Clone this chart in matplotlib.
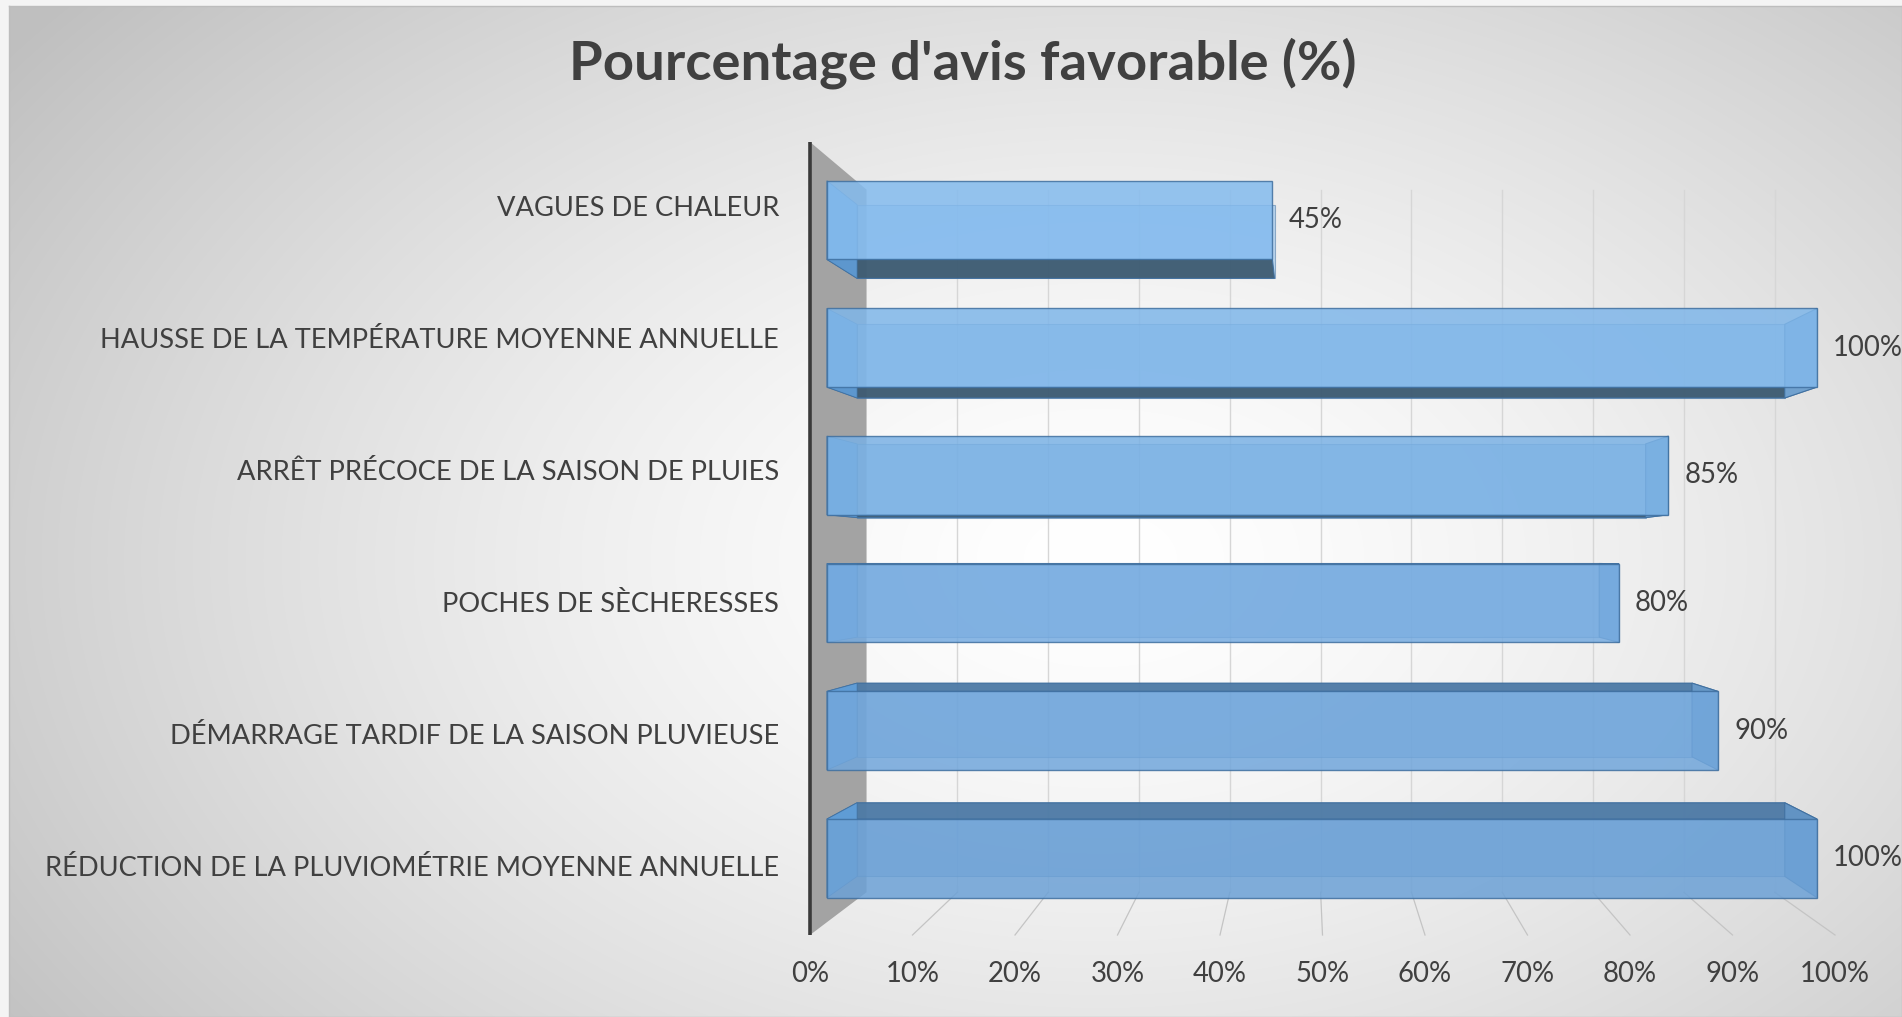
import numpy as np
import matplotlib
matplotlib.use("Agg")
import matplotlib.pyplot as plt
from matplotlib.patches import Polygon
from matplotlib import transforms
from matplotlib.colors import to_rgb

# ---------------- data ----------------
categories = [
    "VAGUES DE CHALEUR",
    "HAUSSE DE LA TEMPÉRATURE MOYENNE ANNUELLE",
    "ARRÊT PRÉCOCE DE LA SAISON DE PLUIES",
    "POCHES DE SÈCHERESSES",
    "DÉMARRAGE TARDIF DE LA SAISON PLUVIEUSE",
    "RÉDUCTION DE LA PLUVIOMÉTRIE MOYENNE ANNUELLE",
]
values = [45, 100, 85, 80, 90, 100]
ticks = [0, 10, 20, 30, 40, 50, 60, 70, 80, 90, 100]
tick_labels = ["0%", "10%", "20%", "30%", "40%", "50%", "60%", "70%", "80%", "90%", "100%"]
value_labels = ["45%", "100%", "85%", "80%", "90%", "100%"]
title = "Pourcentage d'avis favorable (%)"

# ---------------- figure ----------------
W, H = 1902, 1017
fig = plt.figure(figsize=(W / 100, H / 100), dpi=100)
fig.patch.set_facecolor("#f4f4f4")
renderer = fig.canvas.get_renderer()

FONT = "Lato"
TXT = "#404040"

# radial gradient background (chart area)
bg = fig.add_axes([9 / W, 0, (W - 9) / W, (H - 6) / H])
gx = np.arange(9, W)
gy = np.arange(6, H)
X, Y = np.meshgrid(gx, gy)
cx, cy, a, b = 1100, 560, 1350, 880
r = np.sqrt(((X - cx) / a) ** 2 + ((Y - cy) / b) ** 2)
val = (255 - 64 * np.clip(r, 0, 1) ** 1.45) / 255.0
img = np.dstack([val, val, val])
bg.imshow(img, aspect="auto", extent=[0, 1, 0, 1], origin="upper", interpolation="bilinear")
bg.set_xticks([]); bg.set_yticks([])
for sp in bg.spines.values():
    sp.set_color("#bdbdbd"); sp.set_linewidth(1.0)
bg.set_zorder(-10)

# main axes: x = percent, y = category index (front floor plane)
ax = fig.add_axes([810 / W, 1 - 935 / H, 1025 / W, 793 / H])
ax.set_xlim(0, 100)
ax.set_ylim(5.5, -0.5)
ax.axis("off")

VX, VY = 48.4, 2.663          # vanishing point in data coordinates
S_WALL, S_F, S_B = 0.886, 0.966, 0.905
HALF = 0.308


def proj(p, y, s):
    return (VX + (p - VX) * s, VY + (y - VY) * s)


def poly(pts, **kw):
    ax.add_patch(Polygon(pts, closed=True, clip_on=False, **kw))


# side wall
poly([proj(0, -0.5, 1), proj(0, -0.5, S_WALL), proj(0, 5.5, S_WALL), proj(0, 5.5, 1)],
     facecolor="#a3a3a3", edgecolor="none", zorder=2)
ax.plot([0, 0], [-0.5, 5.5], color="#3a3a3a", lw=2.6, zorder=3, clip_on=False,
        solid_capstyle="butt")

# back wall gridlines and floor lines
for t in ticks[1:]:
    (x0, y0), (x1, y1) = proj(t, -0.5, S_WALL), proj(t, 5.5, S_WALL)
    ax.plot([x0, x1], [y0, y1], color="#d6d6d6", lw=1.0, zorder=1, clip_on=False)
    (x2, y2) = proj(t, 5.5, 1.0)
    ax.plot([x1, x2], [y1, y2], color="#c4c4c4", lw=0.9, zorder=1, clip_on=False)

EDGE = "#3f6f9f"
c_top, c_bot = np.array(to_rgb("#84bbee")), np.array(to_rgb("#6ca1d6"))
n = len(values)

for i, v in enumerate(values):
    front_c = c_top + (c_bot - c_top) * i / (n - 1)
    yt, yb = i - HALF, i + HALF
    z = 5 + i * 0.01
    # back face (mostly seen through the front)
    poly([proj(0, yt, S_B), proj(v, yt, S_B), proj(v, yb, S_B), proj(0, yb, S_B)],
         facecolor=front_c, alpha=0.5, edgecolor=EDGE, lw=0.8, zorder=z)
    top = [proj(0, yt, S_B), proj(v, yt, S_B), proj(v, yt, S_F), proj(0, yt, S_F)]
    bot = [proj(0, yb, S_B), proj(v, yb, S_B), proj(v, yb, S_F), proj(0, yb, S_F)]
    left = [proj(0, yt, S_B), proj(0, yb, S_B), proj(0, yb, S_F), proj(0, yt, S_F)]
    right = [proj(v, yt, S_B), proj(v, yb, S_B), proj(v, yb, S_F), proj(v, yt, S_F)]
    if yt > VY:
        poly(top, facecolor="#4d79a4", alpha=0.92, edgecolor=EDGE, lw=0.8, zorder=z + 0.001)
    if yb < VY:
        poly(bot, facecolor="#3a576d", alpha=0.92, edgecolor=EDGE, lw=0.8, zorder=z + 0.001)
    poly(left, facecolor="#62a2df", alpha=0.85, edgecolor=EDGE, lw=0.6, zorder=z + 0.002)
    if v > VX:
        poly(right, facecolor=front_c * 0.93, alpha=0.9, edgecolor=EDGE, lw=0.8, zorder=z + 0.002)
    # front face
    poly([proj(0, yt, S_F), proj(v, yt, S_F), proj(v, yb, S_F), proj(0, yb, S_F)],
         facecolor=front_c, alpha=0.85, edgecolor=EDGE, lw=1.0, zorder=z + 0.003)


def fitted_size(text, target_px, weight="normal", base=20.0):
    t = fig.text(0, 0, text, fontsize=base, family=FONT, weight=weight)
    w = t.get_window_extent(renderer).width
    t.remove()
    return base * target_px / w


cat_fs = fitted_size(categories[1], 676)
val_fs = fitted_size("85%", 54)
tick_fs = fitted_size("100%", 70)
title_fs = fitted_size(title, 786, weight="bold")

# category labels
for i, c in enumerate(categories):
    ax.text(-3.0, i, c, ha="right", va="center", fontsize=cat_fs, family=FONT,
            color=TXT, clip_on=False)

# value labels
off = transforms.offset_copy(ax.transData, fig=fig, x=16, y=0, units="dots")
for i, (v, lab) in enumerate(zip(values, value_labels)):
    px, py = proj(v, i, S_F)
    ax.text(px, py, lab, ha="left", va="center", fontsize=val_fs, family=FONT,
            color=TXT, transform=off, clip_on=False, zorder=20)

# x tick labels on the front floor edge
for t, lab in zip(ticks, tick_labels):
    ax.text(t, 5.795, lab, ha="center", va="center", fontsize=tick_fs, family=FONT,
            color=TXT, clip_on=False)

fig.text(963 / W, 1 - 63 / H, title, ha="center", va="center", fontsize=title_fs,
         family=FONT, weight="bold", color=TXT)

fig.savefig("out.png", dpi=100)
